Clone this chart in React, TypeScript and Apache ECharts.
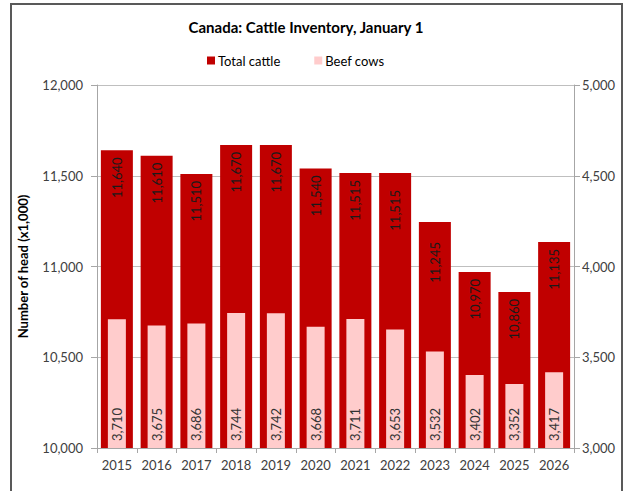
import React, { useEffect, useRef } from "react";
import * as echarts from "echarts";

const years = ["2015", "2016", "2017", "2018", "2019", "2020", "2021", "2022", "2023", "2024", "2025", "2026"];
const totalCattle = [11640, 11610, 11510, 11670, 11670, 11540, 11515, 11515, 11245, 10970, 10860, 11135];
const beefCows = [3710, 3675, 3686, 3744, 3742, 3668, 3711, 3653, 3532, 3402, 3352, 3417];

const FONT = "Lato, 'Open Sans', sans-serif";
// a few labels in the original were nudged further down inside their bars
const labelNudge: Record<number, number> = { 7: 17, 8: 20 };

export default function App() {
  const ref = useRef<HTMLDivElement>(null);
  useEffect(() => {
    if (!ref.current) return;
    const chart = echarts.init(ref.current, null, { renderer: "svg" });
    const fmt = (v: number) => v.toLocaleString("en-US");
    chart.setOption({
      animation: false,
      backgroundColor: "#ffffff",
      textStyle: { fontFamily: FONT },
      title: {
        text: "Canada: Cattle Inventory, January 1",
        left: 301,
        top: 14,
        textAlign: "center",
        textStyle: { fontFamily: FONT, fontSize: 15, fontWeight: "bold", color: "#000000" },
      },
      legend: {
        top: 49,
        left: 202,
        itemWidth: 8,
        itemHeight: 8,
        itemGap: 34,
        icon: "rect",
        textStyle: { fontFamily: FONT, fontSize: 13, color: "#000000", padding: [0, 0, 0, -2] },
        data: ["Total cattle", "Beef cows"],
      },
      graphic: [
        {
          type: "rect",
          shape: { x: 11, y: 4, width: 611, height: 500 },
          style: { fill: "none", stroke: "#595959", lineWidth: 2 },
          silent: true,
        },
      ],
      grid: { left: 97, right: 50, top: 85, bottom: 43, containLabel: false },
      xAxis: [
        {
          type: "category",
          data: years,
          axisLine: { show: true, lineStyle: { color: "#A6A6A6" } },
          axisTick: { show: true, length: 5, lineStyle: { color: "#A6A6A6" } },
          axisLabel: { fontFamily: FONT, fontSize: 13, color: "#404040", margin: 10 },
        },
        {
          type: "category",
          data: years,
          show: false,
          position: "bottom",
        },
      ],
      yAxis: [
        {
          type: "value",
          min: 10000,
          max: 12000,
          interval: 500,
          name: "Number of head (x1,000)",
          nameLocation: "middle",
          nameGap: 68,
          nameRotate: 90,
          nameTextStyle: { fontFamily: FONT, fontSize: 13, fontWeight: "bold", color: "#000000" },
          axisLine: { show: true, lineStyle: { color: "#A6A6A6" } },
          axisTick: { show: true, length: 6, lineStyle: { color: "#A6A6A6" } },
          axisLabel: { fontFamily: FONT, fontSize: 13, color: "#404040", margin: 14, formatter: fmt },
          splitLine: { show: true, lineStyle: { color: "#BFBFBF" } },
        },
        {
          type: "value",
          min: 3000,
          max: 5000,
          interval: 500,
          position: "right",
          axisLine: { show: true, lineStyle: { color: "#A6A6A6" } },
          axisTick: { show: true, length: 6, lineStyle: { color: "#A6A6A6" } },
          axisLabel: { fontFamily: FONT, fontSize: 13, color: "#404040", margin: 8, formatter: fmt },
          splitLine: { show: false },
        },
      ],
      series: [
        {
          name: "Total cattle",
          type: "bar",
          xAxisIndex: 0,
          yAxisIndex: 0,
          data: totalCattle.map((v, i) =>
            labelNudge[i] !== undefined ? { value: v, label: { distance: labelNudge[i] } } : v
          ),
          barWidth: 32,
          itemStyle: { color: "#C00000" },
          label: {
            show: true,
            position: "insideTop",
            rotate: 90,
            align: "right",
            verticalAlign: "middle",
            distance: 7,
            fontFamily: FONT,
            fontSize: 13,
            color: "#1a1a1a",
            formatter: (p: any) => fmt(p.value),
          },
          z: 2,
        },
        {
          name: "Beef cows",
          type: "bar",
          xAxisIndex: 1,
          yAxisIndex: 1,
          data: beefCows,
          barWidth: 18,
          itemStyle: { color: "#FFCCCC" },
          label: {
            show: true,
            position: "insideBottom",
            rotate: 90,
            align: "left",
            verticalAlign: "middle",
            distance: 7,
            fontFamily: FONT,
            fontSize: 13,
            color: "#333333",
            formatter: (p: any) => fmt(p.value),
          },
          z: 3,
        },
      ],
    });
    return () => chart.dispose();
  }, []);
  return (
    <div style={{ position: "fixed", left: 0, top: 0, width: 624, height: 491 }}>
      <div ref={ref} style={{ width: 624, height: 491 }} />
    </div>
  );
}
